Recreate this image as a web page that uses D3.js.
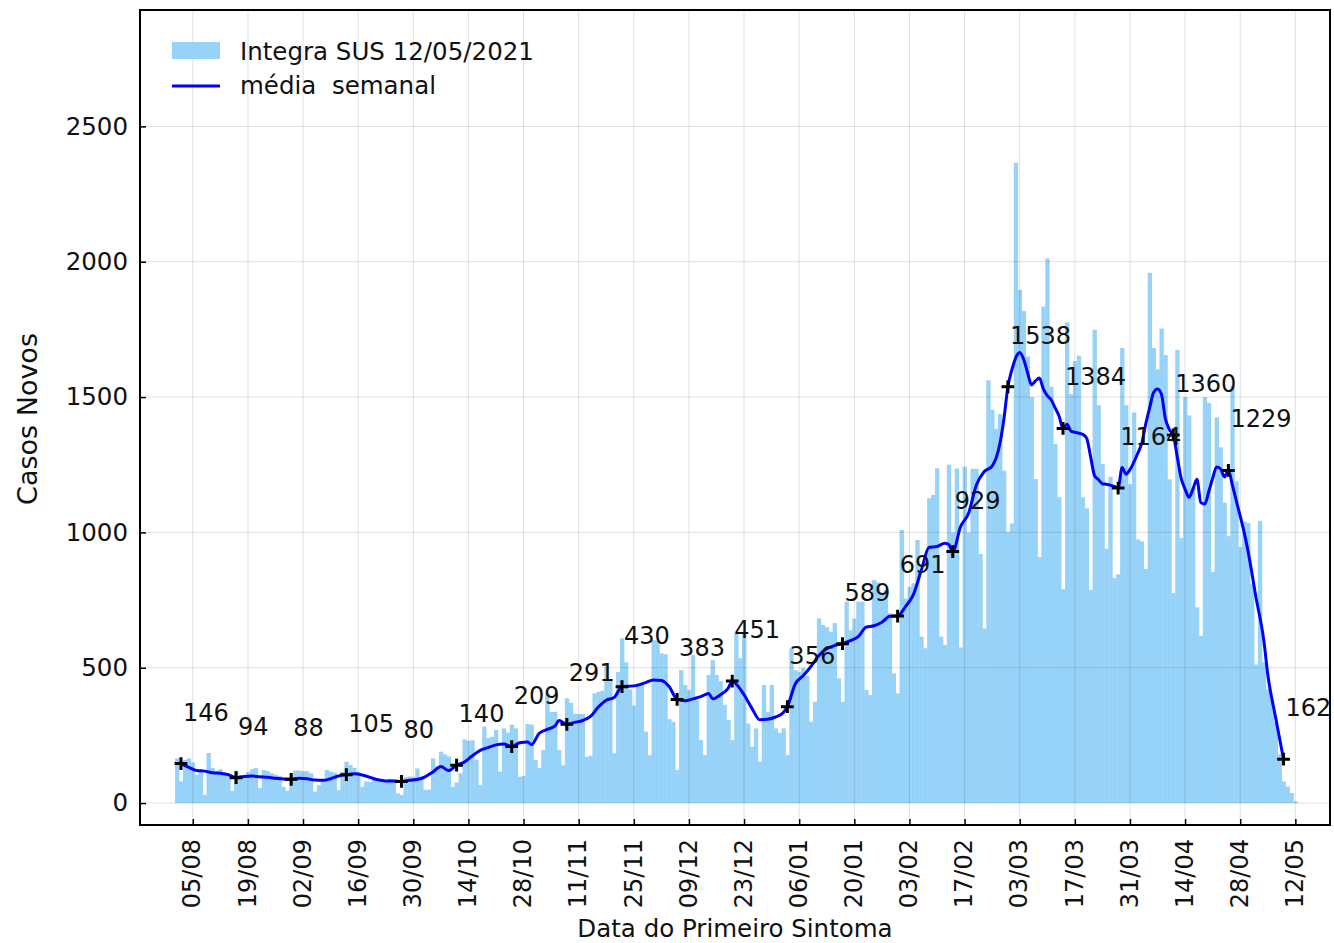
<!DOCTYPE html>
<html>
<head>
<meta charset="utf-8">
<script src="https://cdn.jsdelivr.net/npm/d3@7"></script>
<style>
body {margin:0; background:#fff;}
text {font-family:"DejaVu Sans", sans-serif; fill:#111;}
</style>
</head>
<body>
<div id="chart"></div>
<script>
// casos novos por data do primeiro sintoma, a partir de 01/08/2020
var inicio = Date.UTC(2020, 7, 1);

var casosNovos = [
    165, 80, 160, 165, 150, 105, 125, 30, 185, 130, 120, 125, 110, 105, 45, 120, 105, 100, 115, 125, 130, 55, 122, 118, 110, 105, 100, 60, 45,
    104, 120, 120, 118, 118, 110, 42, 66, 85, 122, 116, 112, 48, 116, 153, 140, 130, 116, 60, 80, 78, 88, 80, 82, 85, 90, 88, 36,
    30, 95, 98, 97, 128, 97, 48, 50, 165, 136, 190, 180, 172, 60, 76, 110, 235, 230, 232, 160, 67, 282, 240, 245, 270, 116, 276,
    260, 290, 276, 97, 100, 292, 290, 159, 130, 196, 405, 337, 337, 196, 140, 387, 370, 330, 329, 329, 171, 175, 405, 411, 415, 510, 453, 184, 485, 609, 520,
    420, 360, 440, 445, 264, 177, 602, 600, 553, 550, 310, 300, 122, 491, 436, 418, 547, 380, 233, 177, 473, 528, 473, 450, 363, 307, 233, 630, 535,
    627, 294, 208, 276, 153, 436, 337, 436, 276, 260, 276, 177, 572, 491, 485, 500, 470, 300, 374, 682, 658, 650, 633, 665, 461, 374, 744, 639, 682, 744,
    744, 418, 399, 824, 815, 775, 787, 701, 479, 405, 1009, 756, 799, 812, 972, 615, 572, 1126, 1138, 1237, 615, 584, 1250, 1000, 1236, 575,
    1243, 1000, 1235, 1235, 920, 645, 1562, 1453, 1383, 1437, 1228, 1002, 1033, 2365, 1896, 1818, 1650, 1500, 1197, 909, 1834, 2012, 1538, 1327,
    1130, 790, 1776, 1511, 1633, 1653, 1130, 1089, 788, 1749, 1470, 1253, 940, 1205, 831, 845, 1681, 1470, 1178, 1443, 974, 967, 865,
    1959, 1681, 1602, 1753, 1655, 1196, 776, 1674, 979, 1500, 1432, 1165, 723, 618, 1500, 1478, 854, 1425, 1314, 1110, 986, 1543, 1189, 946,
    1040, 1035, 810, 512, 1043, 520, 420, 380, 300, 180, 80, 61, 37, 6
];

// media semanal: [dia desde 01/08, valor]
var mediaSemanal = [
    [1,146],[3,132],[5,120],[7,118],[9,112],[11,110],[13,105],[15,94],[17,98],[19,100],[21,97],[23,95],[25,92],[27,89],
    [29,88],[31,92],[33,90],[35,85],[37,84],[39,90],[41,100],[43,105],[45,108],[47,104],[49,95],[51,86],[53,82],[55,82],
    [57,80],[59,84],[61,87],[63,97],[65,115],[67,135],[69,120],[71,140],[73,152],[75,175],[77,195],[79,205],[81,215],[83,218],
    [85,209],[87,223],[89,226],[90,216],[92,258],[94,272],[96,285],[97,305],[99,291],[101,298],[103,305],[105,320],[107,355],
    [109,380],[111,390],[113,430],[116,433],[119,445],[121,455],[123,453],[125,430],[127,383],[129,378],[131,385],[133,393],
    [135,405],[136,385],[138,400],[140,425],[141,451],[142,440],[144,400],[146,350],[148,308],[150,310],[152,318],[154,335],
    [155,356],[157,440],[159,470],[161,505],[163,545],[165,570],[167,582],[169,589],[171,600],[173,615],[175,650],[177,655],
    [179,668],[181,690],[183,691],[185,726],[187,770],[189,860],[191,945],[193,948],[195,960],[196,955],[197,929],[199,1022],
    [201,1070],[203,1175],[205,1225],[207,1245],[209,1330],[210,1420],[211,1538],[212,1600],[213,1645],[214,1665],[215,1640],
    [216,1590],[217,1545],[218,1560],[219,1570],[220,1530],[221,1505],[222,1490],[223,1460],[224,1430],[225,1384],[226,1400],
    [227,1375],[228,1370],[230,1362],[231,1348],[232,1280],[233,1210],[234,1195],[235,1180],[236,1178],[238,1170],[239,1164],
    [240,1240],[241,1215],[242,1232],[244,1293],[245,1330],[246,1400],[247,1460],[248,1517],[249,1530],[250,1510],[251,1420],
    [252,1380],[253,1360],[254,1280],[255,1200],[256,1160],[257,1130],[258,1160],[259,1196],[260,1110],[261,1105],[262,1150],
    [263,1200],[264,1242],[265,1235],[266,1205],[267,1229],[268,1176],[269,1117],[270,1060],[271,1000],[272,930],[274,760],
    [276,600],[277,475],[279,315],[281,162]
];

// pontos marcados a cada 14 dias
var rotuloDia = [1, 15, 29, 43, 57, 71, 85, 99, 113, 127, 141, 155, 169, 183, 197, 211, 225, 239, 253, 267, 281];
var rotuloValor = [146, 94, 88, 105, 80, 140, 209, 291, 430, 383, 451, 356, 589, 691, 929, 1538, 1384, 1164, 1360, 1229, 162];

var ticksXData = ["2020-08-05", "2020-08-19", "2020-09-02", "2020-09-16", "2020-09-30", "2020-10-14", "2020-10-28",
                  "2020-11-11", "2020-11-25", "2020-12-09", "2020-12-23", "2021-01-06", "2021-01-20", "2021-02-03",
                  "2021-02-17", "2021-03-03", "2021-03-17", "2021-03-31", "2021-04-14", "2021-04-28", "2021-05-12"];
var ticksY = [0, 500, 1000, 1500, 2000, 2500];

var legendaBarras = "Integra SUS 12/05/2021";
var legendaLinha = "média  semanal";
var tituloX = "Data do Primeiro Sintoma";
var tituloY = "Casos Novos";

var corBarra = "#97d2f8", corLinha = "#0000ff";
var width = 1334, height = 943;
var m = {left: 140, right: 1330, top: 10, bottom: 825};

function dia(i) { return new Date(inicio + i*864e5); }

var svg = d3.select("#chart").append("svg")
    .attr("width", width)
    .attr("height", height);

var x = d3.scaleUtc()
    .domain([dia(-9.4), dia(292.8)])
    .range([m.left, m.right]);
var y = d3.scaleLinear()
    .domain([-81, 2930])
    .range([m.bottom, m.top]);

svg.append("defs").append("clipPath")
    .attr("id", "area")
    .append("rect")
    .attr("x", m.left).attr("y", m.top)
    .attr("width", m.right - m.left).attr("height", m.bottom - m.top);

var plot = svg.append("g").attr("clip-path", "url(#area)");
var bw = x(dia(1)) - x(dia(0));

plot.selectAll("rect.barra").data(casosNovos)
    .join("rect")
    .attr("class", "barra")
    .attr("x", function(v, i) { return x(dia(i)) - bw/2; })
    .attr("y", function(v) { return y(v); })
    .attr("width", bw + 0.4)
    .attr("height", function(v) { return y(0) - y(v); })
    .attr("fill", corBarra);

var ticksX = ticksXData.map(function(s) { return new Date(s + "T00:00:00Z"); });

// grade
plot.selectAll("line.gx").data(ticksX)
    .join("line")
    .attr("x1", function(d) { return x(d); }).attr("x2", function(d) { return x(d); })
    .attr("y1", m.top).attr("y2", m.bottom)
    .attr("stroke", "#000").attr("stroke-opacity", 0.12).attr("stroke-width", 1);
plot.selectAll("line.gy").data(ticksY)
    .join("line")
    .attr("x1", m.left).attr("x2", m.right)
    .attr("y1", function(d) { return y(d); }).attr("y2", function(d) { return y(d); })
    .attr("stroke", "#000").attr("stroke-opacity", 0.12).attr("stroke-width", 1);

// media semanal
var linha = d3.line()
    .x(function(d) { return x(dia(d[0])); })
    .y(function(d) { return y(d[1]); })
    .curve(d3.curveMonotoneX);
plot.append("path")
    .datum(mediaSemanal)
    .attr("d", linha)
    .attr("fill", "none")
    .attr("stroke", corLinha)
    .attr("stroke-width", 3);

var simbolo = d3.symbol().type(d3.symbolPlus || d3.symbolCross).size(d3.symbolPlus ? 55 : 35);
plot.selectAll("path.mk").data(rotuloDia)
    .join("path")
    .attr("transform", function(d, i) { return "translate(" + x(dia(d)) + "," + y(rotuloValor[i]) + ")"; })
    .attr("d", simbolo)
    .attr("fill", d3.symbolPlus ? "none" : "#000")
    .attr("stroke", "#000")
    .attr("stroke-width", d3.symbolPlus ? 3 : 0);

svg.selectAll("text.rot").data(rotuloDia)
    .join("text")
    .attr("class", "rot")
    .attr("x", function(d) { return x(dia(d)) + 2; })
    .attr("y", function(d, i) { return y(rotuloValor[i]) - 43; })
    .style("font-size", "24px")
    .text(function(d, i) { return rotuloValor[i]; });

// eixos
var eixoY = d3.axisLeft(y).tickValues(ticksY).tickSize(-6).tickPadding(12).tickFormat(d3.format("d"));
var gy = svg.append("g").attr("transform", "translate(" + m.left + ",0)").call(eixoY);
gy.select(".domain").remove();
gy.selectAll("text").style("font-size", "24.5px").attr("font-family", null).attr("fill", "#111");
gy.selectAll("line").attr("stroke", "#000").attr("stroke-width", 1.5);

var eixoX = d3.axisBottom(x).tickValues(ticksX).tickSize(-6).tickFormat(d3.utcFormat("%d/%m"));
var gx = svg.append("g").attr("transform", "translate(0," + m.bottom + ")").call(eixoX);
gx.select(".domain").remove();
gx.selectAll("line").attr("stroke", "#000").attr("stroke-width", 1.5);
gx.selectAll("text")
    .style("font-size", "24px").attr("font-family", null).attr("fill", "#111")
    .attr("transform", "rotate(-90)")
    .attr("text-anchor", "end")
    .attr("x", -14).attr("y", 0).attr("dy", "0.3em");

svg.append("rect")
    .attr("x", m.left).attr("y", m.top)
    .attr("width", m.right - m.left).attr("height", m.bottom - m.top)
    .attr("fill", "none").attr("stroke", "#000").attr("stroke-width", 2);

svg.append("text")
    .attr("x", (m.left + m.right)/2).attr("y", 937)
    .attr("text-anchor", "middle")
    .style("font-size", "24.5px")
    .text(tituloX);
svg.append("text")
    .attr("transform", "translate(37," + 419 + ") rotate(-90)")
    .attr("text-anchor", "middle")
    .style("font-size", "27px")
    .text(tituloY);

// legenda
var leg = svg.append("g");
leg.append("rect")
    .attr("x", 172).attr("y", 42).attr("width", 48).attr("height", 17)
    .attr("fill", corBarra);
leg.append("line")
    .attr("x1", 172).attr("x2", 220).attr("y1", 86).attr("y2", 86)
    .attr("stroke", corLinha).attr("stroke-width", 3);
leg.append("text").attr("x", 240).attr("y", 51).attr("dy", "0.35em")
    .style("font-size", "24.5px").text(legendaBarras);
leg.append("text").attr("x", 240).attr("y", 85).attr("dy", "0.35em")
    .style("font-size", "24.5px").style("white-space", "pre").text(legendaLinha);
</script>
</body>
</html>
